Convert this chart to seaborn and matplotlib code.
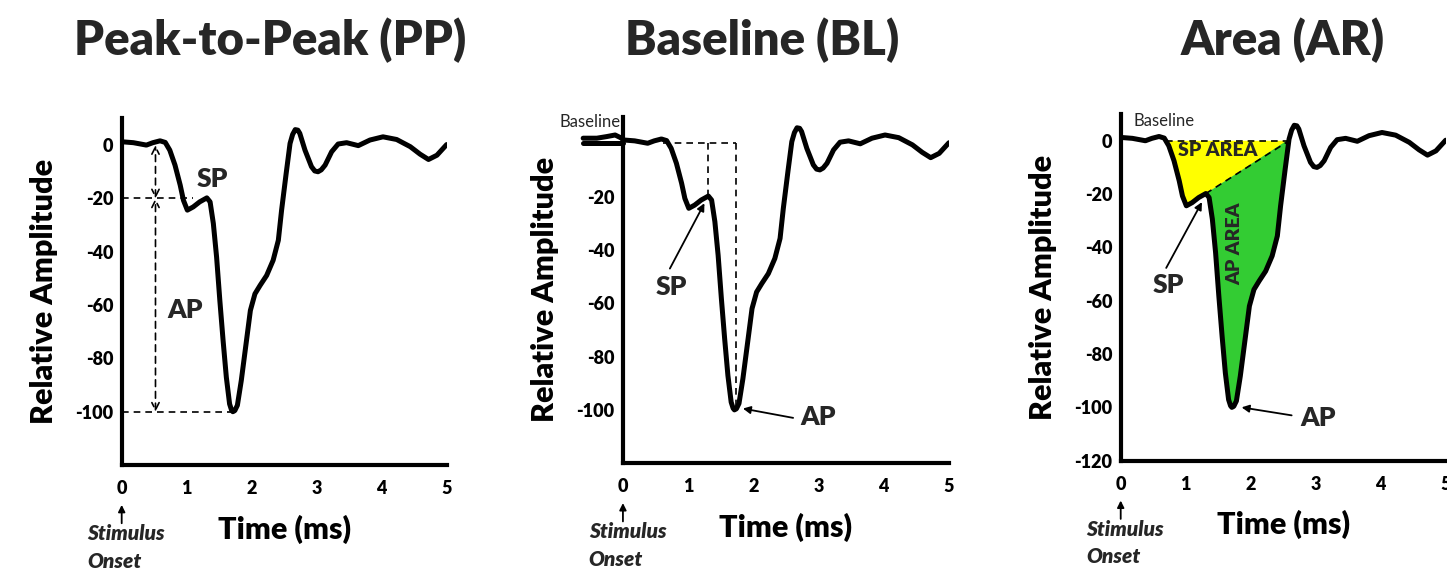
import numpy as np
import pandas as pd
import matplotlib
matplotlib.use('Agg')
import matplotlib.pyplot as plt
import seaborn as sns

# waveform (time in ms, relative amplitude)
time_ms = [0.0, 0.18, 0.38, 0.48, 0.59, 0.67, 0.74, 0.82, 0.90, 0.95, 1.01, 1.10, 1.20, 1.31,
           1.36, 1.41, 1.46, 1.51, 1.56, 1.61, 1.66, 1.69, 1.71, 1.74, 1.78, 1.84, 1.92, 1.98,
           2.05, 2.13, 2.23, 2.33, 2.41, 2.46, 2.53, 2.59, 2.63, 2.67, 2.71, 2.74, 2.82, 2.92,
           2.97, 3.02, 3.07, 3.13, 3.23, 3.33, 3.46, 3.64, 3.82, 4.02, 4.23, 4.44, 4.59, 4.72,
           4.85, 5.0]
amplitude = [1.25, 0.9, 0.0, 0.9, 1.6, 1.0, -1.9, -7.5, -15.0, -20.7, -24.4, -23.2, -21.3, -19.8,
             -21.3, -29.4, -42.0, -58.3, -73.3, -87.1, -97.1, -99.4, -100.0, -99.6, -97.6, -88.3, -73.3, -62.0,
             -55.8, -52.6, -48.9, -43.2, -35.7, -24.4, -10.7, 0.6, 4.0, 5.8, 5.6, 4.4, -1.9, -8.1,
             -9.7, -10.0, -9.3, -7.5, -2.5, 0.4, 0.9, -0.2, 1.9, 3.1, 2.1, -0.6, -3.4, -5.4,
             -3.8, 0.2]

# pre-stimulus trace shown left of the axis in the Baseline panel
pre_time = [-0.61, -0.40, -0.25, -0.12, -0.02, 0.0]
pre_amp = [1.9, 1.9, 2.5, 3.1, 1.9, 1.25]

sp_t, sp_v = 1.31, -19.8      # summating potential peak
ap_t, ap_v = 1.71, -100.0     # action potential trough
area_start, area_end = 0.69, 2.59

titles = ['Peak-to-Peak (PP)', 'Baseline (BL)', 'Area (AR)']
y_ticks = [0, -20, -40, -60, -80, -100, -120]
y_labels = [
    ['0', '-20', '-40', '-60', '-80', '-100', ''],
    ['', '-20', '-40', '-60', '-80', '-100', ''],
    ['0', '-20', '-40', '-60', '-80', '-100', '-120'],
]
x_ticks = [0, 1, 2, 3, 4, 5]

sns.set_style('white')
plt.rcParams['font.family'] = ['Lato', 'DejaVu Sans']
BOLD = 'heavy'

fig = plt.figure(figsize=(14.47, 5.71), dpi=100)
rects = [[0.0841, 0.1856, 0.2246, 0.607],
         [0.4305, 0.1888, 0.2253, 0.607],
         [0.7745, 0.1932, 0.2246, 0.607]]
title_x = [270 / 1447, 762 / 1447, 1283 / 1447]

df = pd.DataFrame({'Time': time_ms, 'Amp': amplitude})
dash = (0, (4, 3))
axes = []
for i, r in enumerate(rects):
    ax = fig.add_axes(r)
    axes.append(ax)
    if i == 2:
        # shaded areas under the curve
        t = np.array(time_ms)
        a = np.array(amplitude)
        m = (t > area_start) & (t <= sp_t)
        ax.fill([area_start] + list(t[m]) + [area_end], [0] + list(a[m]) + [0],
                color='#ffff00', lw=0, zorder=1)
        m2 = (t >= sp_t) & (t <= area_end)
        ax.fill(list(t[m2]), list(a[m2]), color='#33cc33', lw=0, zorder=1)
    sns.lineplot(data=df, x='Time', y='Amp', ax=ax, color='black', linewidth=3.6,
                 estimator=None, sort=False, solid_joinstyle='round', solid_capstyle='round',
                 zorder=3)
    ax.set_xlim(0, 5)
    ax.set_ylim(-120, 10)
    ax.set_xticks(x_ticks)
    ax.set_xticklabels([str(v) for v in x_ticks])
    ax.set_yticks(y_ticks)
    ax.set_yticklabels(y_labels[i])
    sns.despine(ax=ax)
    for s in ['left', 'bottom']:
        ax.spines[s].set_linewidth(3)
        ax.spines[s].set_color('black')
    ax.tick_params(axis='both', which='major', direction='out', length=4, width=3,
                   color='black', labelsize=13, labelcolor='black')
    ax.tick_params(axis='x', pad=7)
    ax.tick_params(axis='y', pad=2)
    for lab in ax.get_xticklabels() + ax.get_yticklabels():
        lab.set_fontweight(BOLD)
    ax.set_xlabel('Time (ms)', fontsize=22, fontweight=BOLD, color='black')
    ax.set_ylabel('Relative Amplitude', fontsize=22, fontweight=BOLD, color='black')
    ax.xaxis.label.set_verticalalignment('center')
    ax.yaxis.label.set_verticalalignment('center')
    ax.xaxis.set_label_coords(0.5, -0.185)
    ax.yaxis.set_label_coords(-0.24, 0.5)

    # stimulus onset marker
    ax.annotate('', xy=(0, -0.115), xytext=(0, -0.168), xycoords='axes fraction',
                arrowprops=dict(arrowstyle='-|>', color='black', lw=1.3, mutation_scale=10,
                                shrinkA=0, shrinkB=0), annotation_clip=False)
    ax.text(-0.105, -0.198, 'Stimulus', transform=ax.transAxes, fontsize=15,
            fontweight=BOLD, style='italic', ha='left', va='center')
    ax.text(-0.105, -0.277, 'Onset', transform=ax.transAxes, fontsize=15,
            fontweight=BOLD, style='italic', ha='left', va='center')

    fig.text(title_x[i], 1 - 55 / 571, titles[i], fontsize=34, fontweight=BOLD,
             ha='center', va='baseline')

lbl = dict(fontsize=19, fontweight=BOLD, ha='center', va='center')
arr = dict(arrowstyle='-|>', color='black', lw=1.3, mutation_scale=11, shrinkA=0, shrinkB=0)

# Peak-to-Peak panel
ax = axes[0]
ax.plot([0, 1.10], [-20, -20], color='black', lw=1.2, ls=dash)
ax.plot([0, ap_t], [ap_v, ap_v], color='black', lw=1.2, ls=dash)
for y0, y1 in [(0, -20), (-20, -100)]:
    ax.annotate('', xy=(0.52, y0), xytext=(0.52, y1),
                arrowprops=dict(arrowstyle='<->', color='black', lw=1.2, ls=dash,
                                mutation_scale=13, shrinkA=0, shrinkB=0))
ax.text(1.40, -12.8, 'SP', **lbl)
ax.text(0.97, -62, 'AP', **lbl)

# Baseline panel
ax = axes[1]
ax.plot(pre_time, pre_amp, color='black', lw=3.6, clip_on=False, solid_capstyle='round')
ax.plot([-0.61, 0], [0, 0], color='black', lw=3.6, clip_on=False, solid_capstyle='round')
ax.plot([0.61, 1.73], [0, 0], color='black', lw=1.2, ls=dash)
ax.plot([1.30, 1.30], [0, sp_v], color='black', lw=1.2, ls=dash)
ax.plot([1.73, 1.73], [0, ap_v], color='black', lw=1.2, ls=dash)
ax.text(-0.04, 8.0, 'Baseline', fontsize=12, ha='right', va='center')
ax.text(0.74, -53.8, 'SP', **lbl)
ax.annotate('', xy=(1.25, -22.5), xytext=(0.72, -47), arrowprops=arr)
ax.text(3.0, -102.5, 'AP', **lbl)
ax.annotate('', xy=(1.84, -99.5), xytext=(2.61, -103), arrowprops=arr)

# Area panel
ax = axes[2]
ax.plot([area_start, area_end], [0, 0], color='black', lw=1.2, ls=dash, zorder=2)
ax.plot([sp_t, area_end], [sp_v, 0], color='black', lw=1.2, ls=dash, zorder=2)
ax.text(0.19, 7.5, 'Baseline', fontsize=12, ha='left', va='center')
ax.text(1.50, -3.5, 'SP AREA', fontsize=14, fontweight=BOLD, ha='center', va='center')
ax.text(1.76, -38.5, 'AP AREA', fontsize=14, fontweight=BOLD, ha='center', va='center',
        rotation=90)
ax.text(0.73, -54, 'SP', **lbl)
ax.annotate('', xy=(1.25, -23), xytext=(0.70, -47.7), arrowprops=arr)
ax.text(3.04, -104, 'AP', **lbl)
ax.annotate('', xy=(1.86, -100), xytext=(2.63, -103), arrowprops=arr)

fig.savefig('out.png', dpi=100)
